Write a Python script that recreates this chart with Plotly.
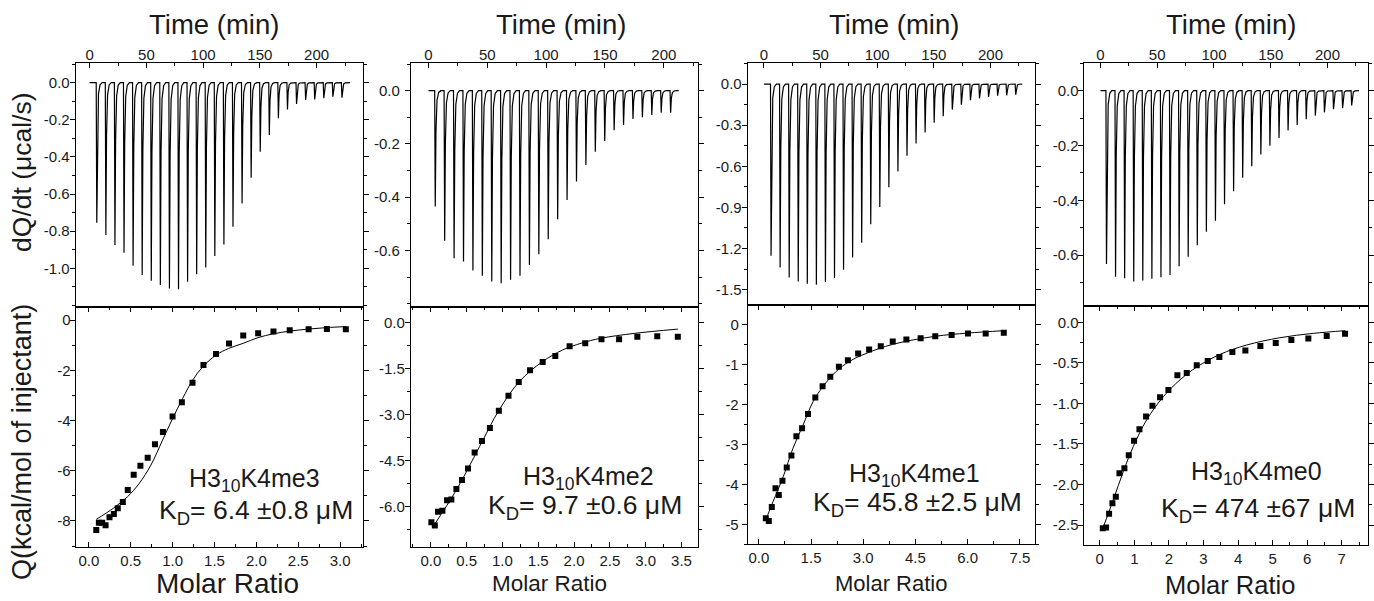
import plotly.graph_objects as go

W, H = 1374, 601
FONT = "Arial, Liberation Sans, Helvetica, sans-serif"
INK = "#1a1a1a"

# ---------------- data ----------------
# Raw ITC thermograms: injection times (min) and peak heights (ucal/s)
p1_inj_t = [6, 14, 22, 30, 38, 46, 54, 62, 70, 78, 86, 94, 102, 110, 118, 126, 134, 142,
            150, 158, 166, 174, 182, 190, 198, 206, 214, 222]
p1_peak = [-0.754, -0.820, -0.874, -0.916, -0.986, -1.036, -1.066, -1.090, -1.108, -1.113,
           -1.072, -1.031, -0.995, -0.934, -0.871, -0.776, -0.650, -0.512, -0.372, -0.282,
           -0.192, -0.144, -0.115, -0.093, -0.090, -0.084, -0.075, -0.081]
p1_t_end = 229.5

p2_inj_t = [5.5, 13.5, 21.5, 29.5, 37.5, 45.5, 53.5, 61.5, 69.5, 77.5, 85.5, 93.5, 101.5,
            109.5, 117.5, 125.5, 133.5, 141.5, 149.5, 157.5, 165.5, 173.5, 181.5, 189.5,
            197.5, 205.5]
p2_peak = [-0.435, -0.563, -0.629, -0.641, -0.675, -0.695, -0.716, -0.723, -0.710, -0.695,
           -0.654, -0.614, -0.558, -0.483, -0.410, -0.341, -0.279, -0.229, -0.189, -0.148,
           -0.129, -0.106, -0.100, -0.091, -0.083, -0.083]
p2_t_end = 212.7

p3_inj_t = [6, 14, 22, 30, 38, 46, 54, 62, 70, 78, 86, 94, 102, 110, 118, 126, 134, 142,
            150, 158, 166, 174, 182, 190, 198, 206, 214, 222]
p3_peak = [-1.252, -1.339, -1.411, -1.440, -1.457, -1.464, -1.444, -1.415, -1.355, -1.266,
           -1.157, -1.022, -0.897, -0.752, -0.637, -0.523, -0.434, -0.354, -0.282, -0.234,
           -0.186, -0.150, -0.118, -0.104, -0.094, -0.084, -0.082, -0.077]
p3_t_end = 228.0

p4_inj_t = [5, 13, 21, 29, 37, 45, 53, 61, 69, 77, 85, 93, 101, 109, 117, 125, 133, 141,
            149, 157, 165, 173, 181, 189, 197, 205, 213, 221]
p4_peak = [-0.633, -0.679, -0.685, -0.697, -0.693, -0.687, -0.681, -0.673, -0.641, -0.606,
           -0.564, -0.515, -0.475, -0.415, -0.367, -0.318, -0.276, -0.233, -0.201, -0.173,
           -0.145, -0.125, -0.104, -0.091, -0.079, -0.068, -0.064, -0.054]
p4_t_end = 227.8

# Integrated heats (kcal/mol of injectant) vs molar ratio
p1_mr = [0.088, 0.119, 0.159, 0.199, 0.246, 0.298, 0.345, 0.405, 0.464, 0.535, 0.615, 0.702,
         0.789, 0.884, 0.999, 1.110, 1.237, 1.368, 1.518, 1.673, 1.843, 2.021, 2.204, 2.398,
         2.624, 2.842, 3.068]
p1_q = [-8.36, -8.07, -8.07, -8.17, -7.85, -7.73, -7.50, -7.25, -6.77, -6.16, -5.80, -5.48,
        -4.95, -4.46, -3.84, -3.27, -2.50, -1.79, -1.35, -0.93, -0.62, -0.53, -0.46, -0.41,
        -0.37, -0.36, -0.37]
p1_fit_mr = [0.088, 0.29, 0.46, 0.60, 0.74, 0.88, 1.00, 1.12, 1.24, 1.36, 1.52, 1.67, 1.84,
             2.02, 2.20, 2.40, 2.62, 2.84, 3.07]
p1_fit_q = [-7.94, -7.50, -7.04, -6.51, -5.78, -4.78, -3.92, -3.12, -2.39, -1.86, -1.39,
            -1.13, -0.93, -0.70, -0.55, -0.44, -0.36, -0.30, -0.26]

p2_mr = [0.008, 0.056, 0.100, 0.162, 0.227, 0.287, 0.357, 0.435, 0.519, 0.612, 0.714, 0.825,
         0.950, 1.085, 1.228, 1.386, 1.562, 1.738, 1.938, 2.156, 2.383, 2.629, 2.884, 3.162,
         3.449]
p2_q = [-6.51, -6.62, -6.17, -6.14, -5.80, -5.77, -5.43, -5.14, -4.76, -4.24, -3.87, -3.44,
        -2.88, -2.39, -1.94, -1.56, -1.29, -1.10, -0.78, -0.68, -0.55, -0.55, -0.47, -0.45,
        -0.47]
p2_fit_mr = [0.03, 0.36, 0.68, 0.955, 1.24, 1.56, 1.84, 2.10, 2.37, 2.84, 3.45]
p2_fit_q = [-6.66, -5.45, -4.05, -2.85, -1.92, -1.28, -0.90, -0.68, -0.52, -0.36, -0.22]

p3_mr = [0.200, 0.286, 0.372, 0.478, 0.573, 0.678, 0.802, 0.936, 1.079, 1.242, 1.413, 1.623,
         1.832, 2.053, 2.300, 2.559, 2.854, 3.169, 3.504, 3.848, 4.24, 4.65, 5.07, 5.54, 6.01,
         6.52, 7.04]
p3_q = [-4.85, -4.92, -4.57, -4.10, -4.27, -3.91, -3.58, -3.28, -2.80, -2.60, -2.24, -1.83,
        -1.55, -1.31, -1.06, -0.90, -0.73, -0.63, -0.55, -0.43, -0.38, -0.35, -0.30, -0.27,
        -0.23, -0.23, -0.21]
p3_fit_mr = [0.20, 0.41, 0.70, 0.98, 1.27, 1.56, 1.84, 2.22, 2.60, 3.08, 3.85, 5.07, 6.0, 7.04]
p3_fit_q = [-4.89, -4.43, -3.81, -3.10, -2.52, -1.93, -1.56, -1.18, -0.93, -0.73, -0.50,
            -0.30, -0.22, -0.16]

p4_mr = [0.087, 0.182, 0.269, 0.365, 0.463, 0.568, 0.712, 0.838, 0.992, 1.147, 1.339, 1.523,
         1.744, 1.985, 2.245, 2.516, 2.805, 3.124, 3.460, 3.836, 4.212, 4.646, 5.091, 5.543,
         6.034, 6.566, 7.096]
p4_q = [-2.54, -2.53, -2.36, -2.23, -2.15, -1.86, -1.80, -1.64, -1.46, -1.32, -1.16, -1.03,
        -0.925, -0.835, -0.654, -0.625, -0.53, -0.477, -0.428, -0.366, -0.346, -0.292, -0.255,
        -0.218, -0.198, -0.169, -0.140]
p4_fit_mr = [0.106, 0.39, 0.68, 0.97, 1.36, 1.84, 2.32, 2.81, 3.48, 4.25, 5.21, 6.18, 7.10]
p4_fit_q = [-2.52, -2.19, -1.84, -1.53, -1.20, -0.917, -0.71, -0.55, -0.395, -0.28, -0.19,
            -0.136, -0.103]

# Tick values / labels
time_ticks = [0, 50, 100, 150, 200]
p1_top_yticks = [0.0, -0.2, -0.4, -0.6, -0.8, -1.0]
p2_top_yticks = [0.0, -0.2, -0.4, -0.6]
p3_top_yticks = [0.0, -0.3, -0.6, -0.9, -1.2, -1.5]
p4_top_yticks = [0.0, -0.2, -0.4, -0.6]
p1_bot_yticks = [0, -2, -4, -6, -8]
p2_bot_yticks = [0.0, -1.5, -3.0, -4.5, -6.0]
p3_bot_yticks = [0, -1, -2, -3, -4, -5]
p4_bot_yticks = [0.0, -0.5, -1.0, -1.5, -2.0, -2.5]
p1_bot_xticks = [0.0, 0.5, 1.0, 1.5, 2.0, 2.5, 3.0]
p2_bot_xticks = [0.0, 0.5, 1.0, 1.5, 2.0, 2.5, 3.0, 3.5]
p3_bot_xticks = [0.0, 1.5, 3.0, 4.5, 6.0, 7.5]
p4_bot_xticks = [0, 1, 2, 3, 4, 5, 6, 7]

labels = ["H3<sub>10</sub>K4me3", "H3<sub>10</sub>K4me2", "H3<sub>10</sub>K4me1",
          "H3<sub>10</sub>K4me0"]
kd_labels = ["K<sub>D</sub>= 6.4 ±0.8 μM", "K<sub>D</sub>= 9.7 ±0.6 μM",
             "K<sub>D</sub>= 45.8 ±2.5 μM", "K<sub>D</sub>= 474 ±67 μM"]


def fmt(vals, nd):
    return [f"{v:.{nd}f}" for v in vals]


def thermogram(times, peaks, t_end):
    xs, ys = [0.0], [0.0]
    for t, p in zip(times, peaks):
        xs += [t - 0.2, t + 0.3, t + 0.9, t + 1.8, t + 3.2, t + 5.0]
        ys += [0.0, p, 0.35 * p, 0.08 * p, 0.015 * p, 0.0]
    xs.append(t_end)
    ys.append(0.0)
    return xs, ys


# ---------------- layout geometry (pixels) ----------------
panels = [
    dict(l=76, r=365, top=63, mid=307, bot=547,
         tx=[-12.3, 241.2], ty=[-1.208, 0.106], bx=[-0.158, 3.278], by=[-9.04, 0.52],
         tyt=p1_top_yticks, tyd=1, tym=0.1, byt=p1_bot_yticks, byd=0, bym=1,
         bxt=p1_bot_xticks, bxd=1, bxm=0.25, tso=-3, bso=-4,
         inj=(p1_inj_t, p1_peak, p1_t_end), pts=(p1_mr, p1_q), fit=(p1_fit_mr, p1_fit_q),
         ttl=(215, 25), mr=(228, 583, 28), lab=(256, 480), kd=(257, 512)),
    dict(l=412.7, r=701, top=63, mid=306.7, bot=546.7,
         tx=[-14.9, 229.0], ty=[-0.811, 0.104], bx=[-0.278, 3.73], by=[-7.31, 0.51],
         tyt=p2_top_yticks, tyd=1, tym=0.1, byt=p2_bot_yticks, byd=1, bym=0.75,
         bxt=p2_bot_xticks, bxd=1, bxm=0.25, tso=2, bso=-3,
         inj=(p2_inj_t, p2_peak, p2_t_end), pts=(p2_mr, p2_q), fit=(p2_fit_mr, p2_fit_q),
         ttl=(563, 25), mr=(552, 583, 22.5), lab=(591, 478), kd=(588, 507)),
    dict(l=751, r=1039.3, top=63, mid=304.7, bot=544.3,
         tx=[-14.3, 239.1], ty=[-1.61, 0.154], bx=[-0.32, 7.93], by=[-5.5, 0.49],
         tyt=p3_top_yticks, tyd=1, tym=0.15, byt=p3_bot_yticks, byd=0, bym=0.5,
         bxt=p3_bot_xticks, bxd=1, bxm=0.75, tso=-3, bso=0,
         inj=(p3_inj_t, p3_peak, p3_t_end), pts=(p3_mr, p3_q), fit=(p3_fit_mr, p3_fit_q),
         ttl=(898, 25), mr=(895, 583, 22), lab=(919, 475), kd=(922, 504)),
    dict(l=1088.3, r=1374, top=63.3, mid=305.7, bot=545,
         tx=[-14.9, 235.7], ty=[-0.785, 0.10], bx=[-0.47, 7.76], by=[-2.746, 0.205],
         tyt=p4_top_yticks, tyd=1, tym=0.1, byt=p4_bot_yticks, byd=1, bym=0.25,
         bxt=p4_bot_xticks, bxd=0, bxm=0.5, tso=-4, bso=-4,
         inj=(p4_inj_t, p4_peak, p4_t_end), pts=(p4_mr, p4_q), fit=(p4_fit_mr, p4_fit_q),
         ttl=(1236, 25), mr=(1235, 585, 25.5), lab=(1262, 473), kd=(1264, 510)),
]

tickfont = dict(family=FONT, size=15, color=INK)
fig = go.Figure()
layout = dict(width=W, height=H, margin=dict(l=0, r=0, t=0, b=0),
              paper_bgcolor="white", plot_bgcolor="white", showlegend=False,
              annotations=[])


def px2x(p):
    return p / W


def px2y(p):
    return 1 - p / H


def base_axis(**kw):
    d = dict(showline=True, linecolor="black", linewidth=1, showgrid=False, zeroline=False,
             tickcolor="black", tickwidth=1, tickfont=tickfont, tickmode="array",
             fixedrange=True)
    d.update(kw)
    return d


def ann(text, xy, size, **kw):
    d = dict(text=text, x=px2x(xy[0]), y=px2y(xy[1]), xref="paper", yref="paper",
             showarrow=False, xanchor="center", yanchor="middle",
             font=dict(family=FONT, size=size, color=INK))
    d.update(kw)
    layout["annotations"].append(d)


for i, p in enumerate(panels):
    top_idx = 2 * i + 1
    bot_idx = 2 * i + 2
    xd = [px2x(p["l"]), min(1.0, px2x(p["r"]))]
    # top (thermogram) axes
    layout[f"xaxis{top_idx}"] = base_axis(
        domain=xd, range=p["tx"], anchor=f"y{top_idx}", side="top", mirror=True,
        ticks="inside", ticklen=5, ticklabelstandoff=-4,
        tickvals=time_ticks, ticktext=[str(v) for v in time_ticks],
        minor=dict(ticks="inside", ticklen=3, dtick=25, tick0=0, tickcolor="black"))
    layout[f"yaxis{top_idx}"] = base_axis(
        domain=[px2y(p["mid"]), px2y(p["top"])], range=p["ty"], anchor=f"x{top_idx}",
        mirror="allticks", ticks="outside", ticklen=5, ticklabelstandoff=p["tso"],
        tickvals=p["tyt"], ticktext=fmt(p["tyt"], p["tyd"]),
        minor=dict(ticks="outside", ticklen=3, dtick=p["tym"], tick0=0, tickcolor="black"))
    # bottom (isotherm) axes
    layout[f"xaxis{bot_idx}"] = base_axis(
        domain=xd, range=p["bx"], anchor=f"y{bot_idx}", side="bottom", mirror="allticks",
        ticks="inside", ticklen=5, ticklabelstandoff=0,
        tickvals=p["bxt"], ticktext=fmt(p["bxt"], p["bxd"]),
        minor=dict(ticks="inside", ticklen=3, dtick=p["bxm"], tick0=0, tickcolor="black"))
    layout[f"yaxis{bot_idx}"] = base_axis(
        domain=[px2y(p["bot"]), px2y(p["mid"])], range=p["by"], anchor=f"x{bot_idx}",
        mirror="allticks", ticks="outside", ticklen=5, ticklabelstandoff=p["bso"],
        tickvals=p["byt"], ticktext=fmt(p["byt"], p["byd"]),
        minor=dict(ticks="outside", ticklen=3, dtick=p["bym"], tick0=0, tickcolor="black"))

    tx, ty = thermogram(*p["inj"])
    fig.add_trace(go.Scatter(x=tx, y=ty, mode="lines", xaxis=f"x{top_idx}",
                             yaxis=f"y{top_idx}", line=dict(color="black", width=1.2),
                             hoverinfo="skip"))
    fig.add_trace(go.Scatter(x=p["fit"][0], y=p["fit"][1], mode="lines",
                             xaxis=f"x{bot_idx}", yaxis=f"y{bot_idx}",
                             line=dict(color="black", width=1, shape="spline", smoothing=1.0)))
    fig.add_trace(go.Scatter(x=p["pts"][0], y=p["pts"][1], mode="markers",
                             xaxis=f"x{bot_idx}", yaxis=f"y{bot_idx}",
                             marker=dict(symbol="square", size=6, color="black")))

    ann("Time (min)", p["ttl"], 27.5)
    ann("Molar Ratio", p["mr"][:2], p["mr"][2])
    ann(labels[i], p["lab"], 25)
    ann(kd_labels[i], p["kd"], 26.5)

# y-axis titles (first panel only)
ann("dQ/dt (μcal/s)", (22, 172), 26.5, textangle=-90)
ann("Q(kcal/mol of injectant)", (22, 442), 27, textangle=-90)

fig.update_layout(**layout)
fig.write_html("out.html", config={"displayModeBar": False},
               post_script="document.body.style.margin='0';"
                           "document.body.style.overflow='hidden';")
